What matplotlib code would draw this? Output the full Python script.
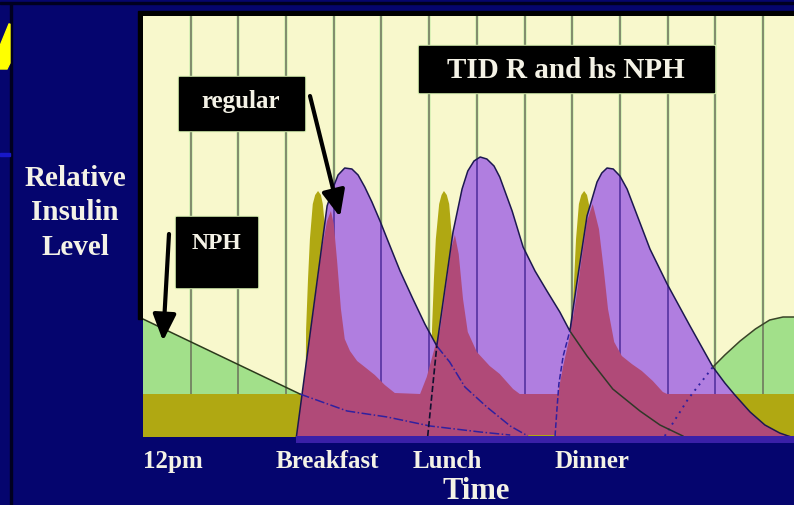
import matplotlib
matplotlib.use("Agg")
import matplotlib.pyplot as plt
from matplotlib.patches import Polygon, Rectangle, FancyArrowPatch

W, H = 794, 506

navy = "#05056e"
paper = "#f8f8cc"
olive = "#b0a812"
green = "#a2e08a"
violet = "#b07ee0"
pink = "#b04a78"
bar = "#3a20a8"
ink = "#f4f2e6"

# x = hour columns of the grid, y = relative insulin level
grid_x = list(range(1, 14))

tick_x = [0.0, 3.86, 6.39, 9.41]
tick_labels = ["12pm", "Breakfast", "Lunch", "Dinner"]

# NPH left over from the bedtime dose
nph_am_x = [0.0, 3.29]
nph_am_y = [12.0, 4.5]
nph_tail_x = [3.29, 4.28, 5.12, 6.02, 7.07, 7.70]
nph_tail_y = [4.5, 2.8, 2.2, 1.3, 0.7, 0.4]

# bedtime NPH
nph_hs_x = [10.94, 11.43, 11.95, 12.20, 12.52, 12.84, 13.14, 13.42, 13.65]
nph_hs_y = [0.3, 4.0, 7.2, 8.4, 9.8, 11.0, 11.9, 12.2, 12.2]

# regular insulin, envelope of the three doses
reg_x = [3.21, 3.86, 4.00, 4.09, 4.23, 4.38, 4.51, 4.65, 4.80, 4.97, 5.12, 5.39, 5.66, 5.91, 6.16,
         6.33, 6.50, 6.69, 6.81, 6.94, 7.07, 7.21, 7.36, 7.48, 7.74, 7.97, 8.22, 8.47, 8.74, 8.95,
         9.10, 9.31, 9.52, 9.62, 9.73, 9.86, 10.00, 10.15, 10.27, 10.63, 10.99, 11.47, 11.95,
         12.20, 12.41, 12.73, 13.04, 13.35, 13.65]
reg_y = [0.0, 23.3, 25.3, 26.4, 27.1, 27.0, 26.4, 25.2, 23.7, 21.8, 20.0, 16.8, 14.0, 11.5, 9.3,
         15.0, 20.7, 25.0, 26.8, 27.8, 28.2, 28.0, 27.3, 26.2, 22.8, 19.2, 16.8, 14.8, 12.7, 10.8,
         15.7, 22.3, 25.7, 26.6, 27.1, 27.0, 26.3, 25.0, 23.5, 19.0, 15.5, 11.3, 7.2,
         5.6, 4.4, 2.7, 1.4, 0.6, 0.1]

reg1_tail_x = [6.16, 6.43, 6.75, 7.21, 7.70, 8.07]
reg1_tail_y = [9.3, 7.7, 5.2, 3.2, 1.3, 0.3]
reg2_rise_x = [5.97, 6.16]
reg2_rise_y = [0.3, 9.3]
reg2_tail_x = [8.95, 9.31, 9.85, 10.42, 10.84, 11.32]
reg2_tail_y = [10.8, 8.3, 5.0, 2.8, 1.4, 0.3]
reg3_rise_x = [8.64, 8.68, 8.72, 8.81, 8.95]
reg3_rise_y = [0.3, 3.0, 5.5, 8.3, 10.8]

# normal (physiologic) insulin profile
pink_x = [3.21, 3.75, 3.86, 3.94, 4.00, 4.07, 4.15, 4.23, 4.34, 4.49,
          4.65, 4.86, 5.07, 5.28, 5.81, 5.95, 6.08, 6.23, 6.37, 6.46,
          6.54, 6.62, 6.71, 6.81, 7.00, 7.27, 7.48, 7.76, 7.90, 8.70,
          8.81, 8.95, 9.08, 9.19, 9.31, 9.43, 9.56, 9.66, 9.75, 9.88,
          10.04, 10.25, 10.46, 10.69, 10.90, 10.99, 12.41, 12.73, 13.04, 13.35,
          13.65]
pink_y = [0.0, 19.0, 21.8, 22.8, 21.5, 17.8, 13.0, 10.0, 8.8, 7.8,
          7.2, 6.4, 5.4, 4.6, 4.5, 6.2, 8.5, 11.0, 15.8, 19.0,
          20.4, 18.5, 14.0, 10.7, 8.7, 7.3, 6.5, 5.0, 4.5, 4.5,
          7.3, 10.3, 14.0, 17.8, 21.8, 23.5, 21.0, 17.0, 13.0, 9.7,
          8.3, 7.5, 6.8, 5.8, 4.7, 4.5, 4.5, 2.7, 1.4, 0.6,
          0.2]

basal_level = 4.5

# meal spikes
spike_y = [0, 11, 16, 20, 23.5, 24.4, 24.8, 24.4, 23.5, 20, 16, 11, 0]
spike1_x = [3.40, 3.42, 3.46, 3.50, 3.56, 3.61, 3.67, 3.73, 3.77, 3.84, 3.88, 3.92, 3.94]
spike2_x = [6.04, 6.06, 6.10, 6.14, 6.21, 6.26, 6.31, 6.37, 6.42, 6.48, 6.52, 6.56, 6.58]
spike3_x = [8.97, 8.99, 9.04, 9.08, 9.14, 9.19, 9.25, 9.31, 9.35, 9.41, 9.45, 9.50, 9.52]


def poly(xs, ys, **kw):
    pts = [(xs[0], 0)] + list(zip(xs, ys)) + [(xs[-1], 0)]
    return Polygon(pts, closed=True, **kw)


def px_rect(x0, y0, x1, y1, **kw):
    return Rectangle((x0 / W, 1 - y1 / H), (x1 - x0) / W, (y1 - y0) / H,
                     transform=fig.transFigure, **kw)


plt.rcParams["font.family"] = ["Liberation Serif", "DejaVu Serif"]

fig = plt.figure(figsize=(W / 100, H / 100), dpi=100)
fig.patch.set_facecolor(navy)

# slide decoration
fig.add_artist(px_rect(0, 3, W, 5, color="#000020", zorder=-2))
fig.add_artist(px_rect(10, 4, 12, H, color="#000020", zorder=-2))
fig.add_artist(px_rect(0, 154, 10, 157, color="#1818c8", zorder=-2))
fig.add_artist(Polygon([(9 / W, 1 - 25 / H), (10 / W, 1 - 25 / H), (10 / W, 1 - 64 / H),
                        (7 / W, 1 - 70 / H), (0, 1 - 70 / H), (0, 1 - 47 / H)],
                       closed=True, transform=fig.transFigure, color="#ffff00", zorder=-1))
fig.add_artist(px_rect(138, 12, W, 320, color="black", zorder=-1))

ax = fig.add_axes([143 / W, (H - 437.5) / H, (W - 143) / W, (437.5 - 17) / H])
ax.set_facecolor(paper)
ax.set_xlim(0, 13.65)
ax.set_ylim(0.25, 42.3)
for s in ax.spines.values():
    s.set_visible(False)
ax.set_yticks([])

# grid columns
ax.vlines(grid_x, basal_level, 42.3, color="#c4eca8", lw=2.6, alpha=0.7, zorder=0.5)
ax.vlines(grid_x, basal_level, 42.3, color="#6a715a", lw=1.1, zorder=4)

for xs in (spike1_x, spike2_x, spike3_x):
    ax.add_patch(poly(xs, spike_y, color=olive, lw=0, zorder=1))

ax.add_patch(poly(nph_am_x + nph_tail_x[1:], nph_am_y + nph_tail_y[1:], color=green, lw=0, zorder=2))
ax.add_patch(poly(nph_hs_x, nph_hs_y, color=green, lw=0, zorder=2))

reg_patch = poly(reg_x, reg_y, color=violet, lw=0, zorder=3)
ax.add_patch(reg_patch)
vl = ax.vlines(grid_x, basal_level, 42.3, color="#6034b4", lw=1.2, zorder=4.5)
vl.set_clip_path(reg_patch)

ax.axhspan(0.2, basal_level, color=olive, lw=0, zorder=5)
ax.add_patch(poly(pink_x, pink_y, color=pink, lw=0, zorder=6))
ax.add_patch(Rectangle((8.07, 0.0), 0.57, 0.45, color=olive, lw=0, zorder=6.5))

# outlines
ax.plot(reg_x, reg_y, color="#1c1850", lw=1.1, zorder=7)
ax.plot(nph_am_x, nph_am_y, color="#2c3a1c", lw=1.1, zorder=7)
ax.plot(nph_hs_x[2:], nph_hs_y[2:], color="#3a4428", lw=1.1, zorder=7)
ax.plot(nph_hs_x[:3], nph_hs_y[:3], color="#3020a0", lw=1.4, ls=(0, (1, 2.5)), zorder=7)
ax.plot(nph_tail_x, nph_tail_y, color="#3020a0", lw=1.1, ls="-.", zorder=7)
ax.plot(reg1_tail_x, reg1_tail_y, color="#3020a0", lw=1.1, ls="-.", zorder=7)
ax.plot(reg2_rise_x, reg2_rise_y, color="#101030", lw=1.2, ls="--", zorder=7)
ax.plot(reg2_tail_x, reg2_tail_y, color="#303828", lw=1.1, zorder=7)
ax.plot(reg3_rise_x, reg3_rise_y, color="#3020a0", lw=1.1, ls="--", zorder=7)

ax.add_patch(Rectangle((3.21, -0.35), 10.44, 0.65, color=bar, lw=0, zorder=8, clip_on=False))

ax.set_xticks(tick_x, tick_labels)
ax.tick_params(axis="x", length=0, pad=9, labelsize=18, labelcolor=ink)
for t in ax.get_xticklabels():
    t.set_fontweight("bold")
ax.get_xticklabels()[0].set_ha("left")

ax.set_xlabel("Time", fontsize=22, fontweight="bold", color=ink, va="center")
ax.xaxis.set_label_coords((476 - 143) / 651, (437.5 - 492) / 420.5)

fig.text(75 / W, 1 - 213 / H, "Relative\nInsulin\nLevel", ha="center", va="center",
         fontsize=21, fontweight="bold", color=ink, linespacing=1.35)

# labelled boxes
boxes = [
    ((419, 47, 714, 93), "TID R and hs NPH", (566, 70), 21),
    ((179, 78, 304, 131), "regular", (241, 102), 18),
    ((176, 218, 257, 288), "NPH", (216, 244), 17),
]
for (x0, y0, x1, y1), label, (tx, ty), fs in boxes:
    fig.add_artist(px_rect(x0 - 1, y0 - 1, x1 + 1, y1 + 1, color="#d8f0b0", zorder=2))
    fig.add_artist(px_rect(x0, y0, x1, y1, color="black", zorder=2.1))
    fig.text(tx / W, 1 - ty / H, label, ha="center", va="center", fontsize=fs,
             fontweight="bold", color=ink, zorder=3)

arrows = [((310, 97), (340, 218)), ((169, 235), (163, 342))]
for (sx, sy), (ex, ey) in arrows:
    fig.add_artist(FancyArrowPatch(
        (sx / W, 1 - sy / H), (ex / W, 1 - ey / H), transform=fig.transFigure,
        arrowstyle="-|>,head_length=0.8,head_width=0.35", mutation_scale=20,
        color="black", lw=3, zorder=9, shrinkA=0, shrinkB=0))

fig.savefig("out.png", dpi=100, facecolor=navy)
